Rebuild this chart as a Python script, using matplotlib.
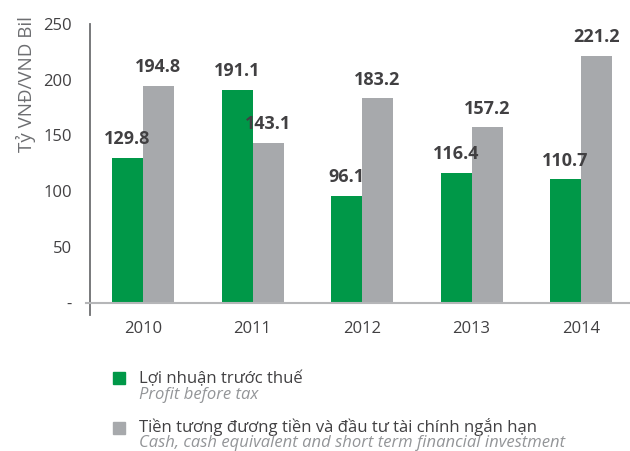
import matplotlib.pyplot as plt
from matplotlib.patches import Rectangle
import numpy as np

plt.rcParams['font.family'] = ['Open Sans', 'DejaVu Sans']

years = ['2010', '2011', '2012', '2013', '2014']
profit = [129.8, 191.1, 96.1, 116.4, 110.7]
cash = [194.8, 143.1, 183.2, 157.2, 221.2]
yticks = [0, 50, 100, 150, 200, 250]
ytick_labels = ['-', '50', '100', '150', '200', '250']

green = '#009848'
grey = '#a7a9ac'
txt = '#414042'

fig = plt.figure(figsize=(6.3, 4.51), dpi=100)
ax = fig.add_axes([90 / 630, 1 - 315 / 451, 540 / 630, 291 / 451])

x = np.arange(len(years))
w = 0.283
b1 = ax.bar(x - w / 2, profit, w, color=green)
b2 = ax.bar(x + w / 2, cash, w, color=grey)

for bars, vals in ((b1, profit), (b2, cash)):
    for r, v in zip(bars, vals):
        ax.annotate(f'{v:.1f}', (r.get_x() + r.get_width() / 2, v),
                    xytext=(0, 7), textcoords='offset points',
                    ha='center', va='bottom', fontsize=13,
                    fontweight='bold', color=txt)

ax.set_xlim(-0.484, 4.447)
ax.set_ylim(-11, 249)
ax.set_xticks(x)
ax.set_xticklabels(years, fontsize=12, color=txt)
ax.set_yticks(yticks)
ax.set_yticklabels(ytick_labels, fontsize=12, color=txt)
ax.tick_params(axis='both', length=0)
ax.tick_params(axis='y', pad=13)
ax.tick_params(axis='x', pad=4)

for s in ['top', 'right', 'bottom']:
    ax.spines[s].set_visible(False)
ax.spines['left'].set_color('#6d6e71')
ax.spines['left'].set_linewidth(1.3)
ax.axhline(0, xmin=-0.008, xmax=1, color='#b5b6b8', lw=1.5, clip_on=False, zorder=3)

fig.text(26 / 630, 1 - 16 / 451, 'Tỷ VNĐ/VND Bil', rotation=90,
         ha='center', va='top', fontsize=13.5, color='#6d6e71')

# legend
fig.patches.append(Rectangle((113 / 630, 1 - 384 / 451), 12 / 630, 12 / 451,
                             transform=fig.transFigure, color=green))
fig.patches.append(Rectangle((113 / 630, 1 - 434 / 451), 12 / 630, 12 / 451,
                             transform=fig.transFigure, color=grey))
fig.text(139 / 630, 1 - 383 / 451, 'Lợi nhuận trước thuế', fontsize=12,
         color=txt, va='baseline')
fig.text(139 / 630, 1 - 399 / 451, 'Profit before tax', fontsize=12,
         color='#939598', style='italic', va='baseline')
fig.text(139 / 630, 1 - 432 / 451, 'Tiền tương đương tiền và đầu tư tài chính ngắn hạn',
         fontsize=12, color=txt, va='baseline')
fig.text(139 / 630, 1 - 447 / 451, 'Cash, cash equivalent and short term financial investment',
         fontsize=12, color='#939598', style='italic', va='baseline')

fig.savefig('out.png', dpi=100)
